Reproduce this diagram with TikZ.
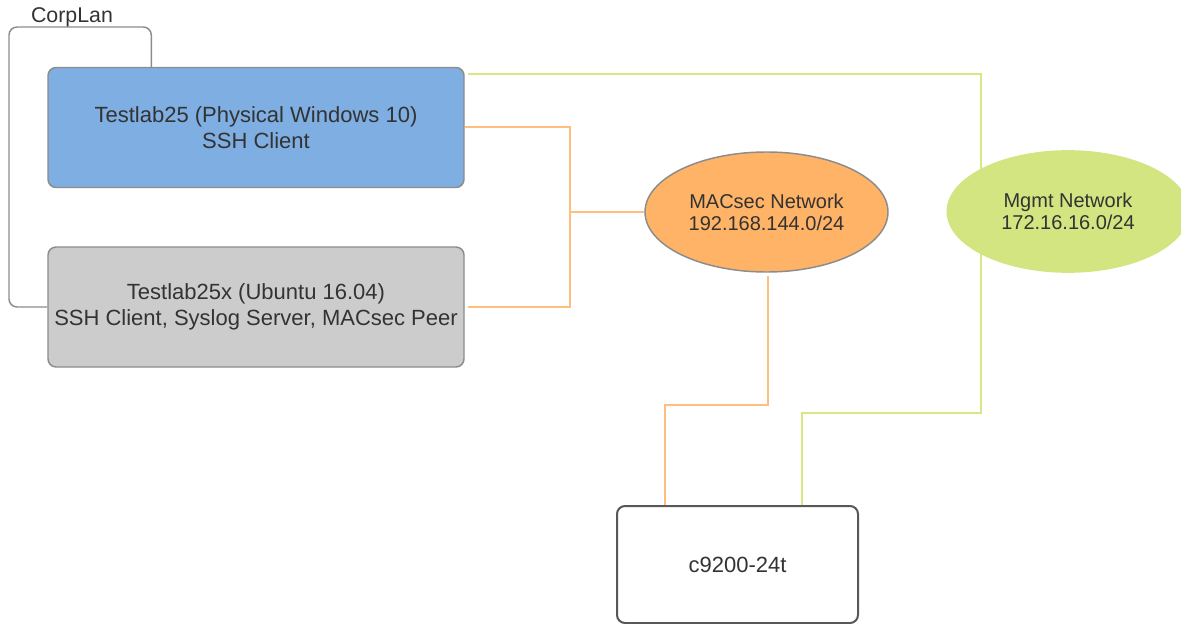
\documentclass[tikz,border=0pt]{standalone}
\usepackage{fontspec}
\setmainfont{Liberation Sans}
\usetikzlibrary{calc,backgrounds,shapes.geometric}
\definecolor{txt}{HTML}{333333}
\definecolor{bluefill}{HTML}{7EAEE2}
\definecolor{grayfill}{HTML}{CCCCCC}
\definecolor{boxborder}{HTML}{8C8C8C}
\definecolor{orangefill}{HTML}{FFB366}
\definecolor{greenfill}{HTML}{D2E581}
\definecolor{orangeline}{HTML}{FFBE7D}
\definecolor{greenline}{HTML}{D6E784}
\definecolor{darkborder}{HTML}{585858}
\tikzset{
  hostbox/.style={draw=boxborder, line width=1.1pt, rounded corners=6pt,
    minimum width=312pt, minimum height=90pt, inner sep=0pt, align=center,
    text=txt, font=\fontsize{16.5}{19.5}\selectfont},
  netell/.style={ellipse, inner sep=0pt, align=center, text=txt,
    font=\fontsize{15}{16.5}\selectfont},
  switchbox/.style={draw=darkborder, line width=1.5pt, rounded corners=6pt, fill=white,
    minimum width=180.75pt, minimum height=87.75pt, inner sep=0pt, text=txt,
    font=\fontsize{16.5}{19.5}\selectfont},
  orangelink/.style={draw=orangeline, line width=1.5pt},
  greenlink/.style={draw=greenline, line width=1.5pt},
  grouplink/.style={draw=boxborder, line width=1.1pt, rounded corners=6pt}
}
\begin{document}
\begin{tikzpicture}[x=0.75pt,y=-0.75pt]
\useasboundingbox (0,0) rectangle (1181,624);
\node[text=txt, font=\fontsize{16}{19}\selectfont] (corplan) at (72,17) {CorpLan};
\node[hostbox, fill=bluefill] (testlab25) at (256,127.5) {Testlab25 (Physical Windows 10)\\SSH Client};
\node[hostbox, fill=grayfill] (testlab25x) at (256,307) {Testlab25x (Ubuntu 16.04)\\SSH Client, Syslog Server, MACsec Peer};
\node[netell, draw=boxborder, line width=1.1pt, fill=orangefill, minimum width=182.25pt, minimum height=90pt] (macsec) at (766.5,212) {MACsec Network\\192.168.144.0/24};
\node[netell, fill=greenfill, minimum width=182.25pt, minimum height=92pt] (mgmt) at (1068,211.5) {Mgmt Network\\172.16.16.0/24};
\node[switchbox] (switch) at (737.5,564.5) {c9200-24t};
\coordinate (oj) at (570,212);
\coordinate (ob) at (665,405);
\coordinate (gb) at (981,413);
\begin{scope}[on background layer]
\draw[grouplink] ($(testlab25.north west)+(104,0)$) |- (9,27) |- (testlab25x.west);
\draw[orangelink] (testlab25.east) -| (oj) |- ($(testlab25x.east)+(3,0)$);
\draw[orangelink] (oj) -- (macsec.west);
\draw[orangelink] ($(macsec.south)+(1.5,3)$) |- (ob) -- (ob |- switch.north);
\draw[greenlink] ($(testlab25.north east)+(3,7)$) -| (gb) -| ($(switch.north west)+(186,0)$);
\end{scope}
\end{tikzpicture}
\end{document}
